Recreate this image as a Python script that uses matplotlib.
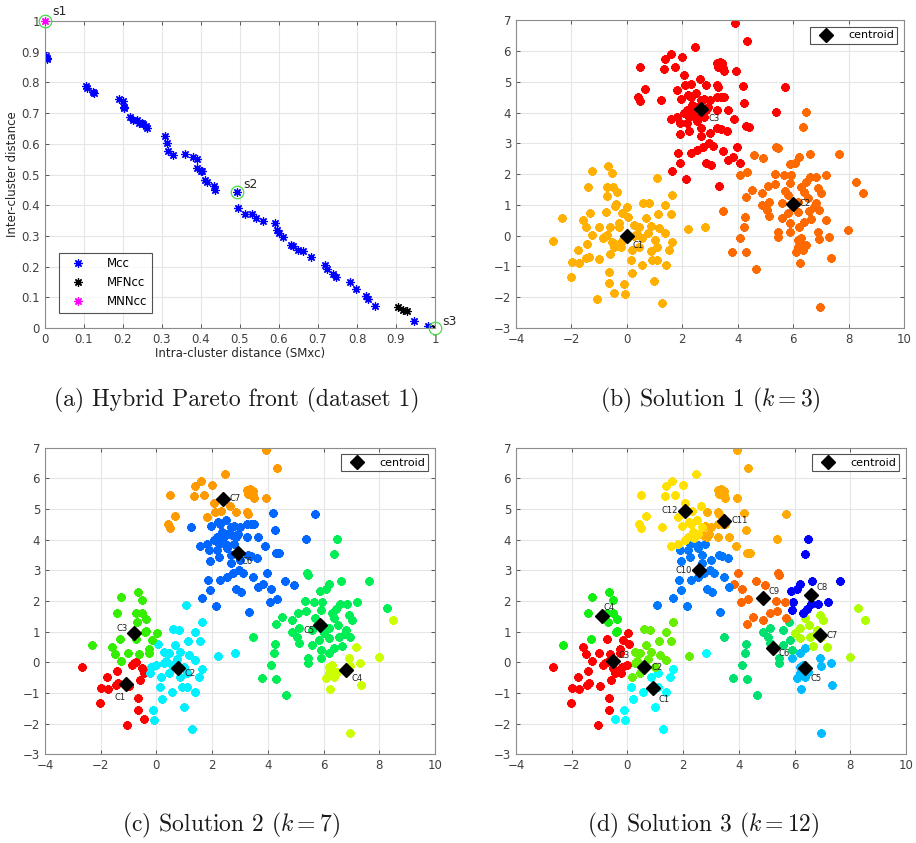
import numpy as np
import matplotlib
matplotlib.use("Agg")
import matplotlib.pyplot as plt

plt.rcParams['font.family'] = ['DejaVu Sans']
plt.rcParams['mathtext.fontset'] = 'cm'

# ---- Pareto front (panel a) ----
mcc_x = [0.0, 0.004, 0.006, 0.002, 0.105, 0.109, 0.124, 0.126, 0.191, 0.199, 0.203, 0.203,
         0.218, 0.226, 0.235, 0.242, 0.248, 0.252, 0.258, 0.262, 0.308, 0.314, 0.316, 0.327,
         0.359, 0.380, 0.389, 0.391, 0.400, 0.403, 0.410, 0.415, 0.433, 0.436, 0.493,
         0.496, 0.513, 0.532, 0.541, 0.560, 0.591, 0.596, 0.601, 0.609, 0.632, 0.637, 0.650,
         0.661, 0.681, 0.718, 0.724, 0.739, 0.746, 0.782, 0.797, 0.823, 0.829, 0.846, 0.947, 0.981]
mcc_y = [0.884, 0.880, 0.876, 0.887, 0.789, 0.781, 0.770, 0.767, 0.747, 0.738, 0.721, 0.715,
         0.687, 0.678, 0.676, 0.669, 0.667, 0.665, 0.658, 0.652, 0.624, 0.604, 0.578, 0.564,
         0.566, 0.556, 0.552, 0.521, 0.513, 0.510, 0.483, 0.477, 0.464, 0.448, 0.443,
         0.392, 0.371, 0.371, 0.358, 0.350, 0.342, 0.320, 0.309, 0.298, 0.271, 0.266, 0.255,
         0.250, 0.230, 0.206, 0.192, 0.177, 0.166, 0.149, 0.128, 0.105, 0.094, 0.073, 0.022, 0.005]
mfn_x = [0.906, 0.919, 0.927, 1.0]
mfn_y = [0.070, 0.060, 0.054, 0.0]
mnn_x = [0.0]
mnn_y = [1.0]
sel_names = ['s1', 's2', 's3']
sel_x = [0.0, 0.493, 1.0]
sel_y = [1.0, 0.443, 0.0]

# ---- dataset points, grouped as in solution 2 (k = 7) ----
g_c1 = [(-2.67, -0.16), (-1.76, -0.47), (-1.43, -0.27), (-1.99, -0.85), (-1.73, -0.88),
        (-1.46, -0.74), (-1.38, -0.68), (-0.99, -0.76), (-2.03, -1.34), (-0.66, -1.17),
        (-0.66, -1.55), (-0.46, -1.86), (-1.06, -2.05), (-0.82, -0.03), (-0.72, 0.02),
        (-0.52, -0.20), (-0.46, -0.36), (-0.60, -0.58), (-0.86, -0.09), (-0.44, -0.26)]
g_c2 = [(1.07, 1.87), (1.64, 1.33), (0.60, 1.08), (0.80, 1.05), (1.38, 1.00), (1.14, 0.70),
        (1.58, 0.70), (0.05, 0.60), (0.26, 0.35), (0.44, 0.29), (0.86, 0.33), (1.16, 0.24),
        (1.38, 0.08), (0.68, 0.57), (2.20, 0.22), (2.81, 0.29), (-0.19, -0.16), (0.00, -0.09),
        (0.26, -0.01), (0.56, -0.09), (0.17, -0.47), (0.44, -0.36), (0.86, -0.49), (1.10, -0.36),
        (1.64, -0.22), (1.52, -0.47), (0.14, -0.80), (0.56, -0.96), (0.92, -0.80), (1.10, -0.80),
        (1.40, -0.96), (0.20, -1.21), (-0.12, -1.56), (-0.07, -1.88), (0.98, -1.47),
        (1.28, -2.18), (-0.22, -0.36), (0.35, 0.05), (0.75, 0.10), (1.00, -0.15)]
g_c3 = [(-0.67, 2.28), (-1.27, 2.12), (-0.52, 2.03), (-1.40, 1.60), (-0.73, 1.60), (-0.50, 1.60),
        (-0.36, 1.42), (-0.71, 1.30), (-0.38, 1.02), (0.02, 0.95), (-2.33, 0.58), (-1.32, 0.75),
        (-1.60, 0.51), (-0.75, 0.76), (-0.16, 0.73), (-1.49, 0.27), (-1.02, 0.29), (-0.62, 0.27),
        (-0.27, 0.42), (-1.27, 0.03), (-0.27, 0.29), (-0.42, 0.98)]
g_c4 = [(8.51, 1.38), (7.18, 0.51), (7.98, 0.17), (7.31, -0.03), (6.90, 0.13), (6.18, -0.14),
        (6.30, -0.09), (6.18, -0.36), (6.36, -0.47), (6.48, -0.30), (6.10, -0.52), (6.94, -0.12),
        (7.36, -0.74), (6.24, -0.88), (6.96, -2.32), (6.25, -0.25)]
g_c5 = [(6.48, 4.02), (6.36, 3.53), (5.39, 2.90), (5.44, 2.85), (6.62, 2.66), (7.64, 2.66),
        (6.21, 2.55), (6.08, 2.38), (5.88, 2.33), (5.33, 2.00), (5.66, 1.98), (5.94, 1.98),
        (6.60, 1.90), (6.84, 1.90), (7.20, 1.98), (8.28, 1.76), (4.50, 1.49), (4.88, 1.38),
        (5.10, 1.62), (5.36, 1.68), (5.90, 1.70), (6.30, 1.60), (6.38, 1.43), (6.90, 1.54),
        (7.02, 1.38), (4.29, 1.25), (4.86, 1.00), (5.12, 1.11), (5.60, 1.05), (6.00, 0.96),
        (6.18, 1.11), (6.52, 1.22), (6.82, 1.05), (6.94, 0.84), (6.56, 0.82), (6.18, 0.78),
        (5.82, 0.73), (5.60, 0.57), (5.12, 0.64), (5.06, 0.84), (6.38, 0.46), (6.66, 0.53),
        (5.90, 0.40), (6.20, 0.29), (5.44, 0.13), (5.44, -0.03), (5.90, 0.13), (3.48, 0.82),
        (4.26, 0.60), (4.23, 0.29), (4.10, -0.09), (3.78, -0.52), (4.30, -0.54), (4.66, -1.07),
        (5.80, 1.33), (6.76, 0.93), (6.45, 1.75), (5.70, 1.45)]
g_c6 = [(1.25, 4.41), (2.20, 4.59), (2.30, 4.51), (2.50, 4.64), (2.66, 4.40), (2.78, 4.45),
        (3.00, 4.40), (3.26, 4.51), (3.40, 4.51), (3.52, 4.51), (2.36, 4.25), (2.54, 4.20),
        (2.72, 4.15), (2.84, 4.10), (2.93, 4.20), (2.18, 4.10), (2.06, 3.99), (2.30, 3.94),
        (2.54, 3.82), (2.78, 3.86), (3.26, 4.10), (3.65, 4.10), (1.58, 3.79), (1.80, 3.86),
        (1.90, 3.66), (2.16, 3.68), (2.26, 3.86), (2.54, 3.73), (1.93, 3.32), (2.23, 3.42),
        (2.68, 3.49), (2.66, 3.23), (3.00, 3.34), (3.27, 3.50), (3.39, 3.47), (3.60, 3.41),
        (3.88, 3.79), (4.19, 4.86), (4.24, 4.32), (4.31, 3.57), (4.41, 3.55), (5.37, 4.02),
        (5.69, 4.83), (3.98, 2.90), (2.96, 3.01), (2.74, 2.90), (2.54, 2.79), (2.30, 2.69),
        (1.85, 2.70), (3.10, 2.92), (3.46, 2.77), (3.66, 2.47), (3.84, 2.55), (4.10, 2.38),
        (4.60, 2.64), (4.93, 2.53), (4.07, 1.98), (4.34, 2.07), (1.93, 2.36), (2.84, 2.38),
        (3.05, 2.31), (1.64, 2.09), (2.15, 1.84), (3.33, 1.63), (1.95, 4.45), (2.40, 4.05)]
g_c7 = [(3.92, 6.92), (4.34, 6.33), (2.45, 6.14), (1.61, 5.91), (1.37, 5.75), (1.99, 5.80),
        (0.47, 5.47), (1.34, 5.43), (1.72, 5.47), (2.07, 5.21), (2.63, 5.11), (3.25, 5.62),
        (3.35, 5.65), (3.45, 5.60), (3.36, 5.50), (3.48, 5.45), (3.52, 5.36), (3.28, 5.50),
        (3.94, 5.35), (2.10, 4.89), (2.31, 4.93), (2.85, 4.91), (3.26, 4.90), (3.30, 4.85),
        (1.81, 4.75), (0.65, 4.78), (0.40, 4.52), (0.47, 4.39)]
groups7 = [g_c1, g_c2, g_c3, g_c4, g_c5, g_c6, g_c7]

# ---- centroids read from the solutions ----
cent3 = [(0.0, 0.0), (5.98, 1.04), (2.68, 4.13)]
cent7 = [(-1.09, -0.70), (0.77, -0.18), (-0.82, 0.96), (6.80, -0.24), (5.87, 1.23),
         (2.92, 3.57), (2.39, 5.33)]
cent12 = [(0.93, -0.85), (0.61, -0.16), (-0.51, 0.04), (-0.91, 1.52), (6.37, -0.20),
          (5.21, 0.46), (6.91, 0.89), (6.58, 2.20), (4.88, 2.09), (2.58, 3.01),
          (3.48, 4.62), (2.05, 4.95)]

colors3 = ['#FFB000', '#FF6A00', '#FF0000']
colors7 = ['#FF0000', '#00F0FF', '#33EE00', '#CCFF00', '#00EE55', '#0066FF', '#FF9900']
colors12 = ['#00FFFF', '#66EE00', '#FF0000', '#11EE11', '#00BBFF', '#00E070', '#B0FF00',
            '#0000FF', '#FF6600', '#0077FF', '#FFAA00', '#FFE000']

# label offsets (points) and alignment for centroid names
off3 = [((4, -7), 'left'), ((5, 0), 'left'), ((5, -7), 'left')]
off7 = [((-4, -10), 'center'), ((5, -4), 'left'), ((-4, 3), 'right'), ((4, -6), 'left'),
        ((-4, -4), 'right'), ((3, -6), 'left'), ((5, 0), 'left')]
off12 = [((4, -8), 'left'), ((5, 0), 'left'), ((4, 4), 'left'), ((1, 6), 'left'),
         ((4, -7), 'left'), ((4, -4), 'left'), ((5, 0), 'left'), ((4, 5), 'left'),
         ((4, 5), 'left'), ((-5, 0), 'right'), ((5, 0), 'left'), ((-5, 0), 'right')]

pts = np.array([p for g in groups7 for p in g])
lab7 = np.concatenate([[i] * len(g) for i, g in enumerate(groups7)])


def nearest(points, cents):
    c = np.array(cents)
    d = ((points[:, None, :] - c[None, :, :]) ** 2).sum(axis=2)
    return d.argmin(axis=1)


lab3 = nearest(pts, cent3)
lab12 = nearest(pts, cent12)

TICK_COL = '#404040'
GRID_COL = '#E6E6E6'


def style_axes(ax):
    ax.tick_params(direction='in', length=3, width=0.6, labelsize=8.5,
                   colors=TICK_COL, top=True, right=True, labeltop=False, labelright=False)
    for s in ax.spines.values():
        s.set_color('#8C8C8C')
        s.set_linewidth(0.8)
    ax.grid(True, color=GRID_COL, linewidth=0.8)
    ax.set_axisbelow(True)


def draw_solution(ax, labels, cents, colors, offs):
    for k, col in enumerate(colors):
        sel = labels == k
        ax.plot(pts[sel, 0], pts[sel, 1], linestyle='none', marker=(8, 2, 0),
                markersize=6, mew=1.8, color=col)
    cx = [c[0] for c in cents]
    cy = [c[1] for c in cents]
    ax.plot(cx, cy, linestyle='none', marker='D', markersize=7, color='black',
            label='centroid', zorder=5)
    for i, (c, (o, ha)) in enumerate(zip(cents, offs)):
        ax.annotate('C%d' % (i + 1), c, xytext=o, textcoords='offset points',
                    ha=ha, va='center', fontsize=6, color='#202020', zorder=6)
    ax.set_xlim(-4, 10)
    ax.set_ylim(-3, 7)
    ax.set_xticks(np.arange(-4, 11, 2))
    ax.set_yticks(np.arange(-3, 8, 1))
    style_axes(ax)
    leg = ax.legend(loc='upper right', fontsize=8, frameon=True, fancybox=False,
                    handlelength=2.2, borderpad=0.3, handletextpad=0.9,
                    borderaxespad=0.6)
    leg.get_frame().set_edgecolor('#262626')
    leg.get_frame().set_linewidth(0.8)


fig = plt.figure(figsize=(9.16, 8.43), dpi=100)
ax_a = fig.add_axes([0.0491, 0.6109, 0.4258, 0.3642])
ax_b = fig.add_axes([0.5633, 0.6109, 0.4236, 0.3649])
ax_c = fig.add_axes([0.0491, 0.1052, 0.4258, 0.3637])
ax_d = fig.add_axes([0.5633, 0.1052, 0.4258, 0.3637])

# panel a
ax_a.plot(mcc_x, mcc_y, linestyle='none', marker=(8, 2, 0), markersize=6, mew=0.9,
          color='#0000FF', label='Mcc')
ax_a.plot(mfn_x, mfn_y, linestyle='none', marker=(8, 2, 0), markersize=6, mew=0.9,
          color='black', label='MFNcc')
ax_a.plot(mnn_x, mnn_y, linestyle='none', marker=(8, 2, 0), markersize=6, mew=0.9,
          color='#FF00FF', label='MNNcc', clip_on=False, zorder=5)
ax_a.plot(sel_x, sel_y, linestyle='none', marker='o', markersize=9, mfc='none',
          mec='#44DD44', mew=0.9, clip_on=False, zorder=6)
for name, x, y, dx, dy in zip(sel_names, sel_x, sel_y, [0.018, 0.015, 0.018], [0.02, 0.013, 0.01]):
    ax_a.text(x + dx, y + dy, name, fontsize=9, color='#262626', clip_on=False)
ax_a.set_xlim(0, 1)
ax_a.set_ylim(0, 1)
ax_a.set_xticks(np.arange(0, 1.01, 0.1))
ax_a.set_yticks(np.arange(0, 1.01, 0.1))
ax_a.set_xticklabels(['0', '0.1', '0.2', '0.3', '0.4', '0.5', '0.6', '0.7', '0.8', '0.9', '1'])
ax_a.set_yticklabels(['0', '0.1', '0.2', '0.3', '0.4', '0.5', '0.6', '0.7', '0.8', '0.9', '1'])
style_axes(ax_a)
ax_a.set_xlabel('Intra-cluster distance (SMxc)', fontsize=8.5, color='#262626', labelpad=1)
ax_a.set_ylabel('Inter-cluster distance', fontsize=8.5, color='#262626', labelpad=2)
leg = ax_a.legend(loc='lower left', fontsize=8.5, frameon=True, fancybox=False,
                  handlelength=2.5, borderpad=0.4, handletextpad=1.2,
                  bbox_to_anchor=(0.02, 0.03))
leg.get_frame().set_edgecolor('#262626')
leg.get_frame().set_linewidth(0.8)

draw_solution(ax_b, lab3, cent3, colors3, off3)
draw_solution(ax_c, lab7, cent7, colors7, off7)
draw_solution(ax_d, lab12, cent12, colors12, off12)

cap_kw = dict(fontsize=17, ha='center', va='center', family='cmr10', color='#1a1a1a')
fig.text(0.259, 0.525, '(a) Hybrid Pareto front (dataset 1)', **cap_kw)
fig.text(0.775, 0.525, r'(b) Solution 1 ($k=3$)', **cap_kw)
fig.text(0.252, 0.021, r'(c) Solution 2 ($k=7$)', **cap_kw)
fig.text(0.768, 0.021, r'(d) Solution 3 ($k=12$)', **cap_kw)

fig.savefig('out.png', dpi=100)
